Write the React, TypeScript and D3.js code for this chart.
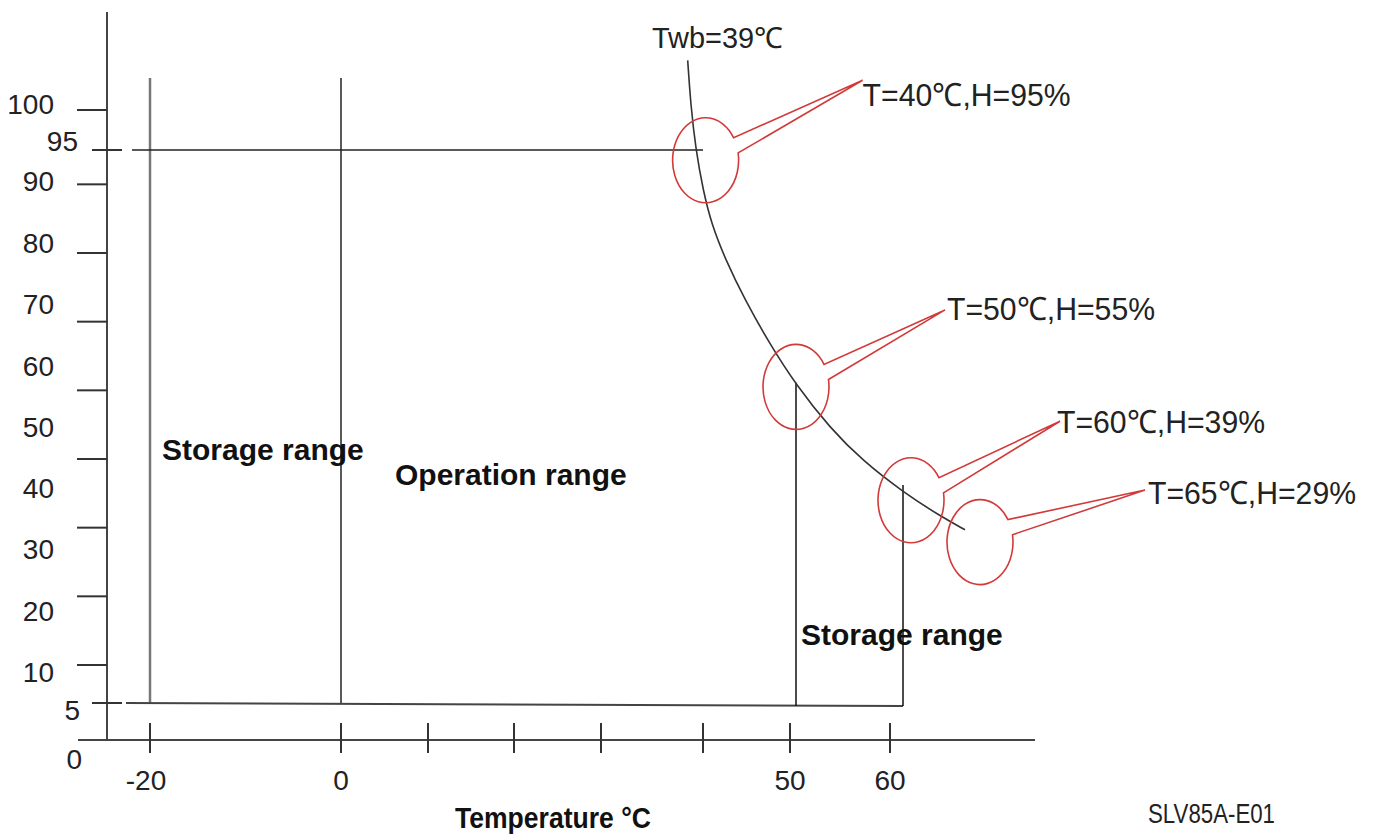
import React from "react";
import * as d3 from "d3";

// axis ticks (the original axis is hand drawn, so the scales are polylinear)
const xTickValues = [-20, 0, 10, 20, 30, 40, 50, 60];
const xTickLabels = ["-20", "0", "", "", "", "", "50", "60"];
const yTickValues = [100, 90, 80, 70, 60, 50, 40, 30, 20];
const yLabelValues = [100, 95, 90, 80, 70, 60, 50, 40, 30, 20, 10, 5, 0];

// wet bulb curve Twb=39°C (T in °C, H in %)
const twbT = [38.5, 38.8, 39.3, 40.0, 41.0, 42.6, 44.8, 47.7, 50.6, 54.0, 57.3, 61.3, 65.0, 67.5];
const twbH = [106.2, 100.6, 95, 89.2, 84.1, 79.0, 73.2, 66.7, 60.8, 54.5, 49.7, 45.2, 41.7, 39.7];

// range boundaries
const storageLowT = -20;
const operationLowT = 0;
const boundaryTopH = 104;
const humidityHigh = 95;
const humidityLow = 5;
const highLineEndT = 40;
const lowLineEnd = [61.3, 4.6];
const storageHighT = [50.6, 61.3];
const storageHighTopH = [61.1, 46.2];

// callouts
const calloutLabels = ["T=40℃,H=95%", "T=50℃,H=55%", "T=60℃,H=39%", "T=65℃,H=29%"];
const calloutT = [40.3, 50.6, 62.1, 69.0];
const calloutH = [93.5, 60.5, 44.0, 37.9];

const regionLabels = ["Storage range", "Operation range", "Storage range"];

const FONT = "'Liberation Sans', Arial, sans-serif";
const RED = "#d23a3a";

const App: React.FC = () => {
  const width = 1381;
  const height = 835;

  const x = d3.scaleLinear()
    .domain(xTickValues)
    .range([150, 341, 428, 514, 601, 703, 790, 890]);
  const y = d3.scaleLinear()
    .domain([0, 5, 20, 95, 100])
    .range([740, 703, 665, 150, 110]);
  // label centres drift away from the tick marks in the original
  const yLabel = d3.scaleLinear()
    .domain([0, 5, 10, 80, 90, 95, 100])
    .range([759, 710, 672, 243, 181, 141, 104]);

  const y0 = y(0);

  const curve = d3.line<number>()
    .x(i => x(twbT[i]))
    .y(i => y(twbH[i]))
    .curve(d3.curveBasis);

  // balloon callout: ellipse with a wedge pointing at the label
  const rx = 33;
  const ry = 42.5;
  const tipOffsets = [[157, -80], [149, -77], [149, -79], [165, -52]];
  const textOffsets = [[0, 26], [2, 10], [-3, 12], [3, 14]];
  const balloon = (cx: number, cy: number, tip: number[]) => {
    const a1 = (-32 * Math.PI) / 180;
    const a2 = (-10 * Math.PI) / 180;
    const p1 = [cx + rx * Math.cos(a1), cy + ry * Math.sin(a1)];
    const p2 = [cx + rx * Math.cos(a2), cy + ry * Math.sin(a2)];
    return `M${p2[0]},${p2[1]} A${rx},${ry} 0 1 1 ${p1[0]},${p1[1]} L${cx + tip[0]},${cy + tip[1]} Z`;
  };

  const labelRight = (v: number) => (v === 95 ? 78 : v === 5 ? 80 : v === 0 ? 82 : 54);

  return (
    <svg
      width={width}
      height={height}
      style={{ position: "absolute", left: 0, top: 0, background: "#fff" }}
      fontFamily={FONT}
    >
      {/* axes */}
      <line x1={107} x2={107} y1={12} y2={y0} stroke="#444" strokeWidth={2} />
      <line x1={78} x2={1035} y1={y0} y2={y0} stroke="#444" strokeWidth={2} />

      {yTickValues.map(v => (
        <line key={v} x1={77} x2={107} y1={y(v)} y2={y(v)} stroke="#333" strokeWidth={2} />
      ))}
      {[humidityHigh, humidityLow].map(v => (
        <line key={v} x1={92} x2={122} y1={y(v)} y2={y(v)} stroke="#333" strokeWidth={2} />
      ))}
      {yLabelValues.map(v => (
        <text key={v} x={labelRight(v)} y={yLabel(v) + 10} textAnchor="end" fontSize={28} fill="#222">
          {v}
        </text>
      ))}

      {xTickValues.map((v, i) => (
        <g key={v}>
          <line x1={x(v)} x2={x(v)} y1={y0 - 17} y2={y0 + 13} stroke="#333" strokeWidth={2} />
          {xTickLabels[i] && (
            <text x={x(v) - (v < 0 ? 4 : 0)} y={790} textAnchor="middle" fontSize={28} fill="#222">
              {xTickLabels[i]}
            </text>
          )}
        </g>
      ))}

      {/* range boundaries */}
      <line x1={x(storageLowT)} x2={x(storageLowT)} y1={y(boundaryTopH)} y2={y(humidityLow)} stroke="#777" strokeWidth={2.5} />
      <line x1={x(operationLowT)} x2={x(operationLowT)} y1={y(boundaryTopH)} y2={y(humidityLow)} stroke="#222" strokeWidth={1.5} />
      <line x1={132} x2={x(highLineEndT)} y1={y(humidityHigh)} y2={y(humidityHigh)} stroke="#222" strokeWidth={1.5} />
      <line x1={126} x2={x(lowLineEnd[0])} y1={y(humidityLow)} y2={y(lowLineEnd[1])} stroke="#444" strokeWidth={2} />
      {storageHighT.map((t, i) => (
        <line key={t} x1={x(t)} x2={x(t)} y1={y(storageHighTopH[i])} y2={y(lowLineEnd[1])} stroke="#111" strokeWidth={1.5} />
      ))}

      {/* Twb curve */}
      <path d={curve(d3.range(twbT.length)) || ""} fill="none" stroke="#333" strokeWidth={1.6} />
      <text x={652} y={48} fontSize={29} textLength={131} lengthAdjust="spacingAndGlyphs" fill="#222">
        Twb=39℃
      </text>

      {/* callouts */}
      {calloutLabels.map((label, i) => {
        const cx = x(calloutT[i]);
        const cy = y(calloutH[i]);
        const tip = tipOffsets[i];
        return (
          <g key={label}>
            <path d={balloon(cx, cy, tip)} fill="none" stroke={RED} strokeWidth={1.6} />
            <text
              x={cx + tip[0] + textOffsets[i][0]}
              y={cy + tip[1] + textOffsets[i][1]}
              fontSize={32}
              textLength={208}
              lengthAdjust="spacingAndGlyphs"
              fill="#222"
            >
              {label}
            </text>
          </g>
        );
      })}

      {/* region labels */}
      <text x={162} y={460} fontSize={30} fontWeight="bold" fill="#111">{regionLabels[0]}</text>
      <text x={395} y={485} fontSize={30} fontWeight="bold" fill="#111">{regionLabels[1]}</text>
      <text x={801} y={645} fontSize={30} fontWeight="bold" fill="#111">{regionLabels[2]}</text>

      <text x={455} y={828} fontSize={29} fontWeight="bold" textLength={196} lengthAdjust="spacingAndGlyphs" fill="#111">
        Temperature °C
      </text>
      <text x={1148} y={823} fontSize={27} textLength={127} lengthAdjust="spacingAndGlyphs" fill="#222">
        SLV85A-E01
      </text>
    </svg>
  );
};

export default App;
